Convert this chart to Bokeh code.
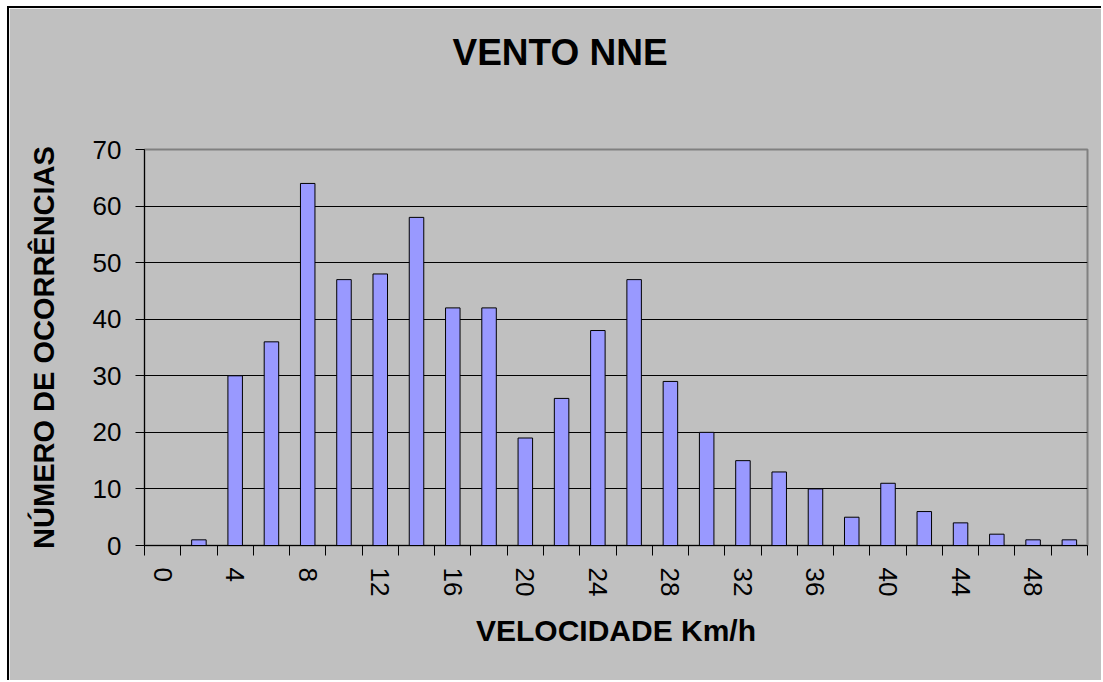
from bokeh.plotting import figure
from bokeh.models import FixedTicker, Range1d, LinearAxis, Title
from bokeh.embed import file_html
from bokeh.resources import INLINE

# Data
speeds = [0, 2, 4, 6, 8, 10, 12, 14, 16, 18, 20, 22, 24, 26, 28, 30, 32, 34, 36, 38, 40, 42, 44, 46, 48, 50]
occurrences = [0, 1, 30, 36, 64, 47, 48, 58, 42, 42, 19, 26, 38, 47, 29, 20, 15, 13, 10, 5, 11, 6, 4, 2, 1, 1]
labelled_ticks = [0, 4, 8, 12, 16, 20, 24, 28, 32, 36, 40, 44, 48]
y_ticks = [0, 10, 20, 30, 40, 50, 60, 70]
title_text = "VENTO NNE"
x_title = "VELOCIDADE Km/h"
y_title = "NÚMERO DE OCORRÊNCIAS"

BG = "#C0C0C0"
FONT = "Liberation Sans"

step = speeds[1] - speeds[0]
boundaries = [s - step / 2 for s in speeds] + [speeds[-1] + step / 2]

p = figure(
    width=1094, height=674,
    output_backend="svg", toolbar_location=None,
    x_range=Range1d(boundaries[0], boundaries[-1]),
    y_range=Range1d(0, 70),
    background_fill_color=BG, border_fill_color=BG,
    min_border_left=135, min_border_right=16,
    min_border_top=141, min_border_bottom=137,
)
p.styles = {"margin-left": "7px", "margin-top": "6px",
            "border-left": "2px solid black", "border-top": "2px solid black"}

p.vbar(x=speeds, top=occurrences, width=step * 0.4, bottom=0,
       fill_color="#9999FF", line_color="black", line_width=1)

# Keep references to the default axes before adding extra ones
xa = p.below[0]
ya = p.left[0]

p.title.text = ""

# Invisible spacer axis directly above the plot area: one hidden tick gives it height
spacer = LinearAxis(ticker=FixedTicker(ticks=[speeds[0]], minor_ticks=[]))
spacer.axis_line_color = None
spacer.major_tick_line_color = None
spacer.minor_tick_line_color = None
spacer.major_tick_out = 77
spacer.major_tick_in = 0
spacer.minor_tick_out = 0
spacer.minor_tick_in = 0
spacer.major_label_text_font_size = "0px"
spacer.major_label_text_color = None
spacer.major_label_standoff = 0
spacer.axis_label_standoff = 0
p.add_layout(spacer, "above")

# Visible chart title, stacked above the spacer
main_title = Title(text=title_text, text_font=FONT, text_font_size="37px",
                   text_font_style="bold", text_color="black",
                   align="left", offset=308, vertical_align="bottom", standoff=0)
p.add_layout(main_title, "above")

# X axis 1: category boundary ticks only (labels not drawn)
xa.ticker = FixedTicker(ticks=boundaries, minor_ticks=[])
xa.major_tick_out = 10
xa.major_tick_in = 0
xa.major_tick_line_color = "black"
xa.minor_tick_line_color = None
xa.axis_line_color = "black"
xa.major_label_text_font_size = "0px"
xa.major_label_text_color = None
xa.major_label_standoff = 0

# X axis 2: labels at category centres
xb = LinearAxis(ticker=FixedTicker(ticks=labelled_ticks, minor_ticks=[]))
xb.axis_line_color = None
xb.major_tick_line_color = None
xb.minor_tick_line_color = None
xb.major_label_orientation = "vertical"
xb.major_label_text_font = FONT
xb.major_label_text_font_size = "26px"
xb.major_label_text_color = "black"
xb.major_label_standoff = 6
xb.axis_label = x_title
xb.axis_label_text_font = FONT
xb.axis_label_text_font_size = "30px"
xb.axis_label_text_font_style = "bold"
xb.axis_label_text_color = "black"
xb.axis_label_standoff = 15
p.add_layout(xb, "below")

# Y axis
ya.ticker = FixedTicker(ticks=y_ticks, minor_ticks=[])
ya.major_tick_out = 9
ya.major_tick_in = 0
ya.major_tick_line_color = "black"
ya.minor_tick_line_color = None
ya.axis_line_color = "black"
ya.major_label_text_font = FONT
ya.major_label_text_font_size = "26px"
ya.major_label_text_color = "black"
ya.major_label_standoff = 14
ya.axis_label = y_title
ya.axis_label_text_font = FONT
ya.axis_label_text_font_size = "29px"
ya.axis_label_text_font_style = "bold"
ya.axis_label_text_color = "black"
ya.axis_label_standoff = 30

# Grid
p.xgrid.grid_line_color = None
p.ygrid.grid_line_color = "black"
p.ygrid.grid_line_width = 1
p.ygrid.ticker = FixedTicker(ticks=y_ticks[1:-1])

p.outline_line_color = "#808080"
p.outline_line_width = 2

open("out.html", "w").write(file_html(p, INLINE))
